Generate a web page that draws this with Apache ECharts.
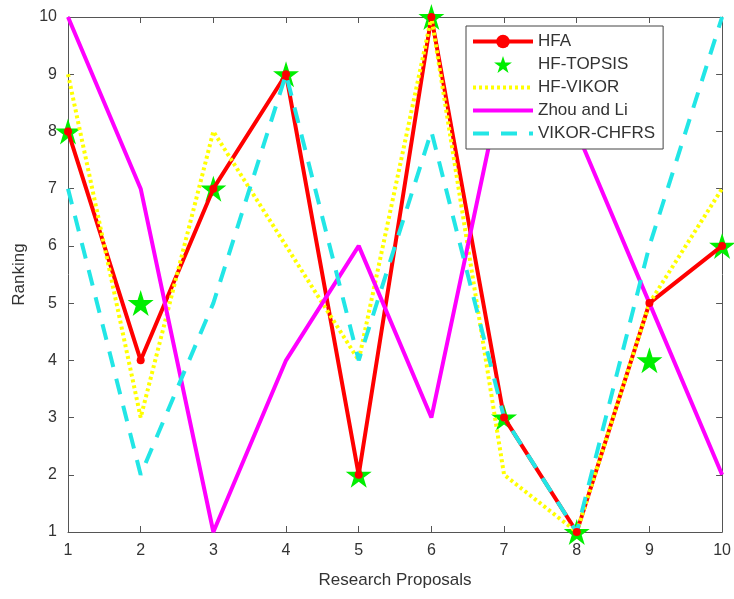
<!DOCTYPE html>
<html lang="en">
<head>
  <meta charset="UTF-8">
  <title>Ranking</title>
  <style>
    html,body { width:100%; height:100%; margin:0; background:#fff; }
  </style>
</head>
<body>
  <div id="chart" style="width:734px;height:599px"></div>
  <script src="https://cdn.jsdelivr.net/npm/echarts@6/dist/echarts.min.js"></script>
  <script>
    var proposals = [1, 2, 3, 4, 5, 6, 7, 8, 9, 10];
    var hfa = [8, 4, 7, 9, 2, 10, 3, 1, 5, 6];
    var hfTopsis = [8, 5, 7, 9, 2, 10, 3, 1, 4, 6];
    var hfVikor = [9, 3, 8, 6, 4, 10, 2, 1, 5, 7];
    var zhouLi = [10, 7, 1, 4, 6, 3, 9, 8, 5, 2];
    var vikorChfrs = [7, 2, 5, 9, 4, 8, 3, 1, 6, 10];

    function pairs(vals) {
      return proposals.map(function (p, i) { return [p, vals[i]]; });
    }

    var star = 'path://M50 0 L61.23 34.55 L97.55 34.55 L68.16 55.9 L79.39 90.45 L50 69.1 L20.61 90.45 L31.84 55.9 L2.45 34.55 L38.77 34.55 Z';
    var axisColor = '#555';
    var font = 'Liberation Sans, Arial, sans-serif';

    var myChart = echarts.init(document.getElementById('chart'));
    var option = {
      animation: false,
      grid: { left: 68, right: 7, top: 17, bottom: 67 },
      legend: {
        orient: 'vertical',
        left: 466, top: 26,
        padding: [7, 8, 7, 5],
        itemWidth: 60, itemHeight: 17,
        itemGap: 6,
        backgroundColor: '#fff',
        borderColor: '#444', borderWidth: 1,
        lineStyle: { width: 4 },
        textStyle: { fontFamily: font, fontSize: 17, color: '#333' },
        data: [
          { name: 'HFA' },
          { name: 'HF-TOPSIS' },
          { name: 'HF-VIKOR', itemStyle: { opacity: 0 } },
          { name: 'Zhou and Li', itemStyle: { opacity: 0 } },
          { name: 'VIKOR-CHFRS', itemStyle: { opacity: 0 } }
        ]
      },
      xAxis: [{
        type: 'value', min: 1, max: 10, interval: 1,
        name: 'Research Proposals', nameLocation: 'middle', nameGap: 40,
        nameTextStyle: { fontFamily: font, fontSize: 17, color: '#333' },
        axisLine: { lineStyle: { color: axisColor } },
        axisTick: { inside: true, length: 6, lineStyle: { color: axisColor } },
        axisLabel: { fontFamily: font, fontSize: 16, color: '#333', margin: 11 },
        splitLine: { show: false }
      }, {
        type: 'value', position: 'top', min: 1, max: 10, interval: 1,
        axisLine: { show: true, lineStyle: { color: axisColor } },
        axisTick: { inside: true, length: 6, lineStyle: { color: axisColor } },
        axisLabel: { show: false },
        splitLine: { show: false }
      }],
      yAxis: [{
        type: 'value', min: 1, max: 10, interval: 1,
        name: 'Ranking', nameLocation: 'middle', nameGap: 38,
        nameTextStyle: { fontFamily: font, fontSize: 17, color: '#333' },
        axisLine: { show: true, lineStyle: { color: axisColor } },
        axisTick: { show: true, inside: true, length: 6, lineStyle: { color: axisColor } },
        axisLabel: { fontFamily: font, fontSize: 16, color: '#333', margin: 11 },
        splitLine: { show: false }
      }, {
        type: 'value', position: 'right', min: 1, max: 10, interval: 1,
        axisLine: { show: true, lineStyle: { color: axisColor } },
        axisTick: { show: true, inside: true, length: 6, lineStyle: { color: axisColor } },
        axisLabel: { show: false },
        splitLine: { show: false }
      }],
      series: [{
        name: 'HFA', type: 'line', data: pairs(hfa),
        symbol: 'circle', symbolSize: 8, showSymbol: true,
        itemStyle: { color: '#ff0000' },
        lineStyle: { color: '#ff0000', width: 4 }
      }, {
        name: 'HF-TOPSIS', type: 'scatter', data: pairs(hfTopsis),
        symbol: star, symbolSize: 26,
        itemStyle: { color: '#00ee00', opacity: 1 }
      }, {
        name: 'HF-VIKOR', type: 'line', data: pairs(hfVikor),
        symbol: 'none',
        itemStyle: { color: '#ffff00' },
        lineStyle: { color: '#ffff00', width: 4, type: [3, 3] }
      }, {
        name: 'Zhou and Li', type: 'line', data: pairs(zhouLi),
        symbol: 'none',
        itemStyle: { color: '#ff00ff' },
        lineStyle: { color: '#ff00ff', width: 4 }
      }, {
        name: 'VIKOR-CHFRS', type: 'line', data: pairs(vikorChfrs),
        symbol: 'none',
        itemStyle: { color: '#00ffff' },
        lineStyle: { color: '#22e6e6', width: 4, type: [16, 12] }
      }]
    };
    myChart.setOption(option);
  </script>
</body>
</html>
